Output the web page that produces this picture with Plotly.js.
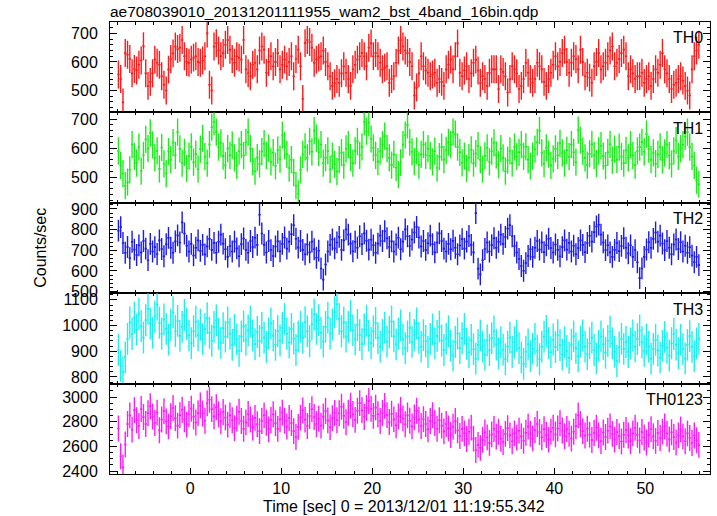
<!DOCTYPE html>
<html><head><meta charset="utf-8">
<script src="https://cdn.plot.ly/plotly-3.0.1.min.js"></script>
<style>html,body{margin:0;padding:0;background:#fff}</style>
</head><body><div id="chart" style="width:717px;height:516px"></div>
<script>
const binStart = -8, binSize = 0.25;
const panelNames = ['TH0','TH1','TH2','TH3','TH0123'];
const th0 = [
556,540,458,631,625,610,560,575,570,590,605,655,560,516,530,560,
608,597,590,550,520,500,573,610,630,654,645,650,677,620,600,597,
608,615,620,600,597,605,620,700,520,500,654,666,640,620,631,660,
677,643,610,597,620,615,608,677,574,560,550,590,597,574,640,654,
643,562,600,620,585,600,631,574,590,608,585,600,620,550,610,643,
585,470,666,677,670,650,597,608,615,620,640,600,585,550,516,525,
540,527,560,585,562,540,516,574,590,608,620,631,620,585,650,665,
620,631,620,597,574,580,585,527,540,550,597,640,677,654,640,631,
600,585,482,510,560,620,585,570,562,550,556,562,527,540,530,516,
574,590,608,574,620,665,562,550,570,585,540,560,597,608,570,527,
550,540,516,562,574,574,574,505,574,565,550,493,540,585,574,560,
505,516,540,597,562,540,527,540,597,585,574,530,516,540,562,590,
620,585,600,631,643,600,562,597,620,610,574,643,600,550,562,545,
527,585,600,631,574,585,597,620,640,654,585,597,610,631,643,620,
550,574,560,540,550,550,562,527,540,550,516,540,574,562,590,631,
574,560,540,505,520,527,540,550,535,516,500,482,574,620,640,660];
const th1 = [
590,540,512,470,482,525,612,571,548,603,520,575,630,598,652,611,
566,590,528,602,545,512,588,560,619,575,655,597,548,585,530,572,
604,551,579,527,596,633,570,548,612,672,690,655,603,618,572,540,
598,575,610,566,540,589,612,574,620,655,598,553,520,567,545,588,
615,575,600,552,584,538,593,562,645,608,578,531,560,515,470,442,
525,578,604,566,623,587,660,634,585,612,548,567,590,526,572,544,
519,560,584,541,597,612,567,548,590,623,575,604,690,658,688,632,
601,575,553,590,612,641,598,566,541,578,532,508,550,612,645,680,
620,587,553,590,541,578,612,575,598,573,552,589,531,570,603,560,
592,620,612,655,648,603,585,549,572,530,567,594,548,581,608,560,
527,573,601,552,589,618,576,543,598,566,520,558,590,548,603,571,
585,612,571,604,560,538,572,596,620,660,583,546,601,579,540,563,
597,575,616,583,548,592,570,612,585,551,662,627,589,566,541,580,
613,575,546,590,608,572,539,585,613,558,596,560,603,571,548,592,
566,612,575,541,590,603,620,587,648,596,560,583,546,578,604,559,
583,612,574,545,590,626,571,598,612,640,655,603,571,540,489,475];
const th2 = [
795,812,735,688,716,662,741,703,677,724,690,745,708,652,731,694,
715,682,748,706,671,729,760,712,688,743,772,738,835,781,722,694,
731,675,712,748,697,726,680,719,755,702,736,688,741,776,732,705,
668,721,694,742,709,671,730,757,702,688,745,716,761,726,872,781,
726,689,745,701,672,718,743,695,731,762,708,742,778,822,756,713,
745,702,681,728,690,742,705,664,698,612,558,631,694,726,752,709,
738,765,702,748,801,776,732,695,741,712,768,730,782,746,703,751,
724,688,732,771,745,792,758,716,743,694,728,761,705,742,801,768,
721,752,786,813,762,718,745,702,734,771,729,690,738,782,745,708,
694,731,705,746,712,681,723,754,708,742,769,726,690,880,611,583,
652,706,738,694,725,758,712,741,776,731,764,805,822,768,721,689,
658,624,601,638,672,705,668,712,745,703,738,691,724,756,711,689,
728,702,671,715,748,703,736,694,722,681,711,748,726,691,735,770,
742,788,815,824,776,738,701,724,690,668,702,735,696,721,758,712,
685,724,668,701,642,565,612,668,704,739,712,755,786,742,771,733,
701,745,712,681,728,752,706,739,694,722,688,715,674,642,668,628];
const th3 = [
905,842,818,876,948,1012,967,1031,984,1046,998,953,1021,1065,1008,972,
1035,1082,1011,968,1024,987,945,1003,1052,979,1018,960,995,1041,1006,962,
931,978,1015,962,1003,948,986,1029,972,941,995,1020,968,933,990,957,
1012,968,925,983,946,902,958,997,944,981,1016,962,928,975,940,991,
953,917,969,1008,961,925,978,942,991,1027,968,934,987,949,905,958,
996,952,1013,978,940,1005,1043,987,1021,972,938,995,1031,968,1004,1052,
1083,1026,978,1012,957,995,1038,981,946,1002,963,928,985,1019,961,932,
978,1010,951,918,964,992,938,975,1016,958,927,969,1001,946,912,958,
991,937,964,1008,952,918,963,940,897,948,985,931,960,996,942,905,
949,978,921,883,936,969,912,951,987,929,896,944,908,871,925,962,
918,887,942,905,951,977,926,892,935,906,869,918,953,897,934,961,
912,876,851,898,927,881,910,948,902,869,918,957,979,932,896,945,
916,963,924,887,935,901,874,926,958,912,880,937,962,918,889,931,
953,905,872,921,958,927,894,940,976,931,898,862,915,948,909,936,
897,930,962,918,947,981,935,902,946,918,871,909,944,903,875,921,
956,914,883,931,967,926,892,945,908,872,925,959,917,881,930,948];
const th0123 = [
2745,2520,2430,2615,2782,2851,2736,2894,2812,2765,2903,2838,2781,2869,2925,2842,
2790,2874,2731,2818,2886,2803,2762,2845,2911,2829,2768,2853,2897,2820,2776,2862,
2905,2841,2793,2870,2932,2866,2808,2949,2978,2902,2843,2917,2861,2804,2879,2833,
2776,2851,2812,2748,2825,2881,2806,2743,2795,2862,2818,2752,2831,2779,2724,2806,
2851,2792,2738,2814,2860,2787,2742,2819,2874,2808,2761,2830,2790,2724,2676,2758,
2833,2892,2817,2765,2846,2901,2838,2781,2824,2768,2842,2887,2811,2756,2829,2871,
2812,2869,2921,2848,2796,2873,2930,2862,2815,2889,2951,2893,2838,2912,2968,2905,
2847,2914,2860,2806,2871,2928,2853,2798,2864,2819,2771,2842,2895,2827,2779,2851,
2808,2762,2835,2889,2817,2765,2820,2781,2738,2806,2852,2790,2743,2812,2768,2722,
2781,2746,2692,2759,2806,2731,2684,2742,2705,2660,2718,2752,2663,2571,2612,2588,
2654,2712,2673,2628,2697,2741,2680,2719,2662,2635,2701,2748,2689,2642,2705,2671,
2728,2683,2646,2711,2760,2702,2665,2733,2781,2716,2674,2739,2692,2655,2718,2751,
2697,2745,2788,2729,2682,2741,2702,2663,2719,2763,2851,2782,2724,2688,2743,2695,
2652,2708,2751,2689,2643,2712,2676,2728,2762,2701,2655,2717,2683,2639,2694,2733,
2688,2642,2705,2751,2693,2648,2716,2672,2631,2695,2739,2682,2645,2708,2668,2720,
2762,2703,2657,2714,2676,2631,2689,2738,2681,2642,2705,2668,2627,2688,2650,2612];
const series = [th0, th1, th2, th3, th0123];
const errHalf = [49, 47, 53, 62, 105];

const colors = ['#ff1a1a','#1aee1a','#1a1aee','#1af0f0','#ff1aff'];
const yRanges = [[423,740],[411,723],[492,930],[774,1126],[2376,3109]];
const yDticks = [100,100,100,100,200];
const yMinor = [20,20,20,20,50];
const xRange = [-8.8, 57.1];
const font = {family:'Liberation Sans, Arial, sans-serif', size:16, color:'#000'};

const traces = [], layout = {
  width:717, height:516, showlegend:false,
  paper_bgcolor:'#fff', plot_bgcolor:'#fff',
  margin:{l:110, r:7, t:22, b:42},
  title:{text:'ae708039010_20131201111955_wam2_bst_4band_16bin.qdp', font:{...font, size:15.5},
         x:110/717, xanchor:'left', xref:'container', y:1-12/516, yanchor:'middle', yref:'container'},
  annotations:[
    {text:'Counts/sec', textangle:-90, xref:'paper', yref:'paper', x:-0.117, y:0.5,
     showarrow:false, font:font, xanchor:'center', yanchor:'middle'},
    {text:'Time [sec] 0 = 2013/12/01 11:19:55.342', xref:'paper', yref:'paper', x:0.49, y:-0.073,
     showarrow:false, font:font, xanchor:'center', yanchor:'middle'}
  ]
};
const n = series.length;
for (let k = 0; k < n; k++) {
  const vals = series[k];
  const xs = vals.map((v, i) => binStart + binSize * (i + 0.5));
  const xa = k === 0 ? 'x' : 'x' + (k + 1);
  const ya = k === 0 ? 'y' : 'y' + (k + 1);
  traces.push({
    type:'scatter', mode:'markers', x:xs, y:vals, xaxis:xa, yaxis:ya,
    marker:{size:1, color:colors[k], opacity:0},
    error_y:{type:'constant', value:errHalf[k], width:0, thickness:1.4, color:colors[k]},
    error_x:{type:'constant', value:binSize/2, width:0, thickness:1.6, color:colors[k]},
    hoverinfo:'skip'
  });
  const top = 1 - k / n, bot = 1 - (k + 1) / n;
  const xKey = k === 0 ? 'xaxis' : 'xaxis' + (k + 1);
  const yKey = k === 0 ? 'yaxis' : 'yaxis' + (k + 1);
  layout[xKey] = {
    anchor:ya, range:xRange, dtick:10, tick0:0, ticks:'inside', ticklen:6, tickcolor:'#000',
    mirror:'allticks', showline:true, linecolor:'#000', linewidth:1, showgrid:false, zeroline:false,
    showticklabels:k === n - 1, tickfont:font,
    minor:{dtick:2, ticks:'inside', ticklen:3, tickcolor:'#000', showgrid:false}
  };
  layout[yKey] = {
    anchor:xa, domain:[bot, top], range:yRanges[k], dtick:yDticks[k], tick0:0, ticks:'inside',
    ticklen:7, tickcolor:'#000', mirror:'allticks', showline:true, linecolor:'#000', linewidth:1,
    showgrid:false, zeroline:false, tickfont:font, ticklabelstandoff:8,
    minor:{dtick:yMinor[k], ticks:'inside', ticklen:3, tickcolor:'#000', showgrid:false}
  };
  layout.annotations.push({text:panelNames[k], xref:'paper', yref:'paper', x:0.992, y:top - 0.035,
    xanchor:'right', yanchor:'middle', showarrow:false, font:{...font, size:16}});
}
Plotly.newPlot('chart', traces, layout, {staticPlot:true, displayModeBar:false});
</script></body></html>
